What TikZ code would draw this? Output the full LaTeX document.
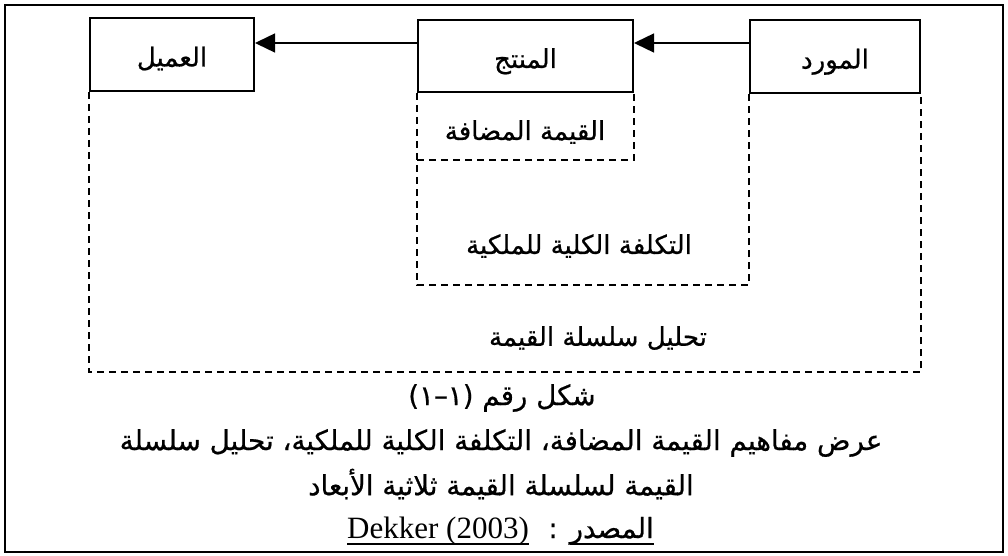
\documentclass[tikz,border=0pt]{standalone}
\usepackage{fontspec}
\setmainfont{Liberation Serif}
\newfontfamily\arabicfont[Script=Arabic,FakeBold=0.6]{DejaVu Sans}
\TeXXeTstate=1
\usetikzlibrary{arrows.meta}
\begin{document}
\begin{tikzpicture}[x=1pt,y=-1pt,
  box/.style={draw,line width=2pt,rectangle,inner sep=0pt,text height=28pt,text depth=4pt,font=\arabicfont\fontsize{26}{30}\selectfont},
  dline/.style={line width=1.8pt,dash pattern=on 7pt off 5pt},
  flow/.style={line width=1.4pt,-{Triangle[length=20pt,width=19pt]}},
  lab/.style={font=\arabicfont\fontsize{26}{30}\selectfont,inner sep=0pt},
  captext/.style={font=\arabicfont\fontsize{27.7}{32}\selectfont,inner sep=0pt},
  lat/.style={font=\fontsize{31}{35}\selectfont,inner sep=0pt}]
\useasboundingbox (0,0) rectangle (1008,556);
\draw[line width=2pt] (5,5) rectangle (1003,552);
% main boxes
\node[box,minimum width=164pt,minimum height=73pt] (cust) at (172,54.5) {\beginR العميل\endR};
\node[box,minimum width=215pt,minimum height=72pt] (prod) at (525.5,56) {\beginR المنتج\endR};
\node[box,minimum width=170pt,minimum height=73pt] (supp) at (835,56.5) {\beginR المورد\endR};
% arrows
\draw[flow] (supp.west |- 0,43) -- (prod.east |- 0,43);
\draw[flow] (prod.west |- 0,43) -- (cust.east |- 0,43);
% dashed frames
\coordinate (vcL) at (cust.south west |- 0,372);
\coordinate (vcR) at (supp.south east |- 0,372);
\draw[dline] (cust.south west) -- (vcL) -- (vcR) -- (supp.south east);
\coordinate (tcL) at (prod.south west |- 0,285);
\coordinate (tcR) at (supp.south west |- 0,285);
\draw[dline] (prod.south west) -- (tcL) -- (tcR) -- (supp.south west);
\coordinate (vaL) at (prod.south west |- 0,160);
\coordinate (vaR) at (prod.south east |- 0,160);
\draw[dline] (vaL) -- (vaR) -- (prod.south east);
% inner labels
\node[lab] (va) at (525,132) {\beginR القيمة المضافة\endR};
\node[lab] (tco) at (579,246) {\beginR التكلفة الكلية للملكية\endR};
\node[lab] (vca) at (598,338) {\beginR تحليل سلسلة القيمة\endR};
% caption
\node[captext] (c1) at (502,398) {\beginR شكل رقم \beginL(١–١)\endL\endR};
\node[captext] (c2) at (501,443) {\beginR عرض مفاهيم القيمة المضافة، التكلفة الكلية للملكية، تحليل سلسلة\endR};
\node[captext] (c3) at (501,484) {\beginR القيمة لسلسلة القيمة ثلاثية الأبعاد\endR};
\node[captext,anchor=base east] (src) at (654,538) {\beginR المصدر\endR};
\node[captext,anchor=base] (colon) at (553,538) {:};
\node[lat,anchor=base west] (dek) at (347,538) {Dekker (2003)};
\draw[line width=1.2pt] ([yshift=-6pt]src.base west) -- ([yshift=-6pt]src.base east);
\draw[line width=1.2pt] ([yshift=-6pt]dek.base west) -- ([yshift=-6pt]dek.base east);
\end{tikzpicture}
\end{document}
